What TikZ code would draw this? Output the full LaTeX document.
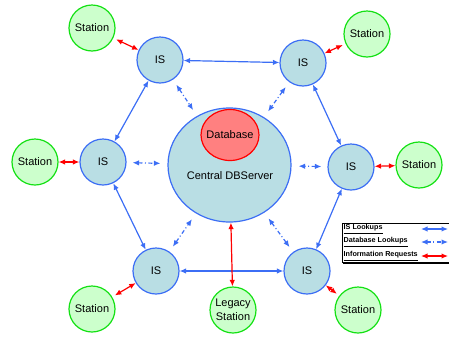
\documentclass[tikz,border=0pt]{standalone}
\usepackage{fontspec}
\setmainfont{Liberation Sans}
\usetikzlibrary{arrows.meta,shapes.geometric,shadows}
\definecolor{isblue}{RGB}{60,110,245}
\definecolor{isfill}{RGB}{185,222,228}
\definecolor{stgreen}{RGB}{20,225,20}
\definecolor{stfill}{RGB}{204,255,204}
\definecolor{dbfill}{RGB}{255,128,128}
\begin{document}
\begin{tikzpicture}[x=1pt,y=-1pt,
  every node/.style={font=\fontsize{11}{14}\selectfont},
  is/.style={circle,draw=isblue,fill=isfill,line width=1.2pt,minimum size=46pt,inner sep=0pt},
  station/.style={circle,draw=stgreen,fill=stfill,line width=1.2pt,minimum size=46pt,inner sep=0pt,align=center},
  islink/.style={isblue,line width=1.2pt,{Latex[length=6.5pt,width=5.5pt]}-{Latex[length=6.5pt,width=5.5pt]}},
  dblink/.style={isblue,line width=1.2pt,dash pattern=on 4pt off 2.5pt on 1pt off 2.5pt,
    {Latex[length=6.5pt,width=5.5pt]}-{Latex[length=6.5pt,width=5.5pt]},shorten <=6pt,shorten >=7pt},
  inforeq/.style={red,line width=1.2pt,{Latex[length=6.5pt,width=5.5pt]}-{Latex[length=6.5pt,width=5.5pt]}},
  legtext/.style={anchor=west,inner sep=0pt,font=\fontsize{7.2}{8}\selectfont\bfseries}]
  \useasboundingbox (0,0) rectangle (449,338);

  % central server and database
  \node[ellipse,draw=isblue,fill=isfill,line width=1.2pt,minimum width=123pt,minimum height=114pt] (server) at (229.5,165) {};
  \node (serverlabel) at (230,176) {Central DBServer};
  \node[ellipse,draw=red,fill=dbfill,line width=1.2pt,minimum width=58pt,minimum height=51pt,
    label=center:Database] (db) at (230,135) {};

  % information servers
  \node[is] (isnw) at (160,60) {IS};
  \node[is] (isne) at (303,63) {IS};
  \node[is] (isw) at (103,162) {IS};
  \node[is] (ise) at (351,167) {IS};
  \node[is] (issw) at (156,271) {IS};
  \node[is] (isse) at (307,271) {IS};

  % stations
  \node[station] (stnw) at (92,28) {Station};
  \node[station] (stne) at (367,34) {Station};
  \node[station] (stw) at (35,162) {Station};
  \node[station] (ste) at (419,165) {Station};
  \node[station] (stsw) at (92,309) {Station};
  \node[station] (stse) at (358,310) {Station};
  \node[station] (legacy) at (233,310) {Legacy\\Station};

  % IS lookups
  \draw[islink] (isnw) -- (isne);
  \draw[islink] (isne) -- (ise);
  \draw[islink] (ise) -- (isse);
  \draw[islink] (isse) -- (issw);
  \draw[islink] (issw) -- (isw);
  \draw[islink] (isw) -- (isnw);

  % database lookups
  \draw[dblink] (isnw) -- (server);
  \draw[dblink] (isne) -- (server);
  \draw[dblink] (isw) -- (server);
  \draw[dblink] (ise) -- (server);
  \draw[dblink] (issw) -- (server);
  \draw[dblink] (isse) -- (server);

  % information requests
  \draw[inforeq,shorten <=3pt] (stnw) -- (isnw);
  \draw[inforeq,shorten <=3pt] (stne) -- (isne);
  \draw[inforeq] (stw) -- (isw);
  \draw[inforeq] (ste) -- (ise);
  \draw[inforeq,shorten <=3pt] (stsw) -- (issw);
  \draw[inforeq,shorten <=3pt] (stse) -- (isse);
  \draw[inforeq] (server) -- (legacy);

  % legend
  \node[draw,fill=white,line width=0.7pt,anchor=north west,minimum width=140pt,minimum height=39pt,
    drop shadow={shadow xshift=0.6pt,shadow yshift=-1.8pt,fill=black,opacity=1}] (legend) at (342,223) {};
  \node[legtext] (legis) at (343.5,229) {\underline{IS Lookups}};
  \node[legtext] (legdb) at (343.5,242) {\underline{Database Lookups}};
  \node[legtext] (legreq) at (343.5,256) {\underline{Information Requests}};
  \coordinate (isa) at (421,229);   \coordinate (isb) at (448,229);
  \coordinate (dba) at (421,242);   \coordinate (dbb) at (448,242);
  \coordinate (reqa) at (421,256);  \coordinate (reqb) at (448,256);
  \draw[islink] (isa) -- (isb);
  \draw[dblink,shorten <=0pt,shorten >=0pt] (dba) -- (dbb);
  \draw[inforeq] (reqa) -- (reqb);
\end{tikzpicture}
\end{document}
